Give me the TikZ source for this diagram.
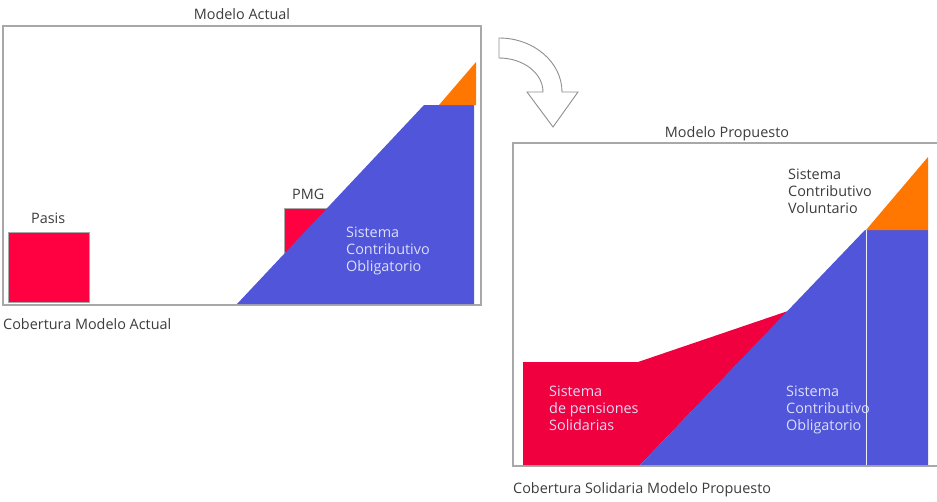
\documentclass[tikz,border=0pt]{standalone}
\usepackage{fontspec}
\setmainfont{Open Sans}
\definecolor{blueC}{RGB}{80,85,217}
\definecolor{redL}{RGB}{255,0,64}
\definecolor{redR}{RGB}{240,0,62}
\definecolor{orangeC}{RGB}{255,119,0}
\definecolor{frameC}{RGB}{168,168,168}
\definecolor{txtC}{RGB}{60,60,60}
\definecolor{ltxt}{RGB}{220,222,248}
\tikzset{
  lbl/.style={inner sep=0pt, anchor=base west, font=\fontsize{14.4}{17}\selectfont, text=txtC},
  wlbl/.style={lbl, text=ltxt},
  ttl/.style={inner sep=0pt, anchor=base, font=\fontsize{14.4}{17}\selectfont, text=txtC},
  frame/.style={draw=frameC, line width=1.5pt},
}
\begin{document}
\begin{tikzpicture}[x=1pt,y=-1pt]
\useasboundingbox (0,0) rectangle (937,501);
% ---------- Left panel ----------
\draw[frame] (3,26) rectangle (481,305);
\node[ttl] (tA) at (242,19.5) {Modelo Actual};
\fill[redL, draw=frameC, line width=1pt] (8,232) rectangle (89,302);
\node[lbl] (pasis) at (31,223) {Pasis};
\fill[redL, draw=frameC, line width=1pt] (284,208) rectangle (340,252);
\node[lbl] (pmg) at (292,199) {PMG};
\fill[blueC] (237,304) -- (424,105) -- (474,105) -- (474,304) -- cycle;
\fill[orangeC] (439,105) -- (476,62) -- (476,105) -- cycle;
\node[wlbl] (l1) at (346,237) {Sistema};
\node[wlbl] (l2) at (346,254) {Contributivo};
\node[wlbl] (l3) at (346,271) {Obligatorio};
\node[lbl] (capA) at (3,329) {Cobertura Modelo Actual};
% ---------- Arrow ----------
\draw[draw=frameC!85!black, line width=0.9pt, fill=white]
  (499,38) .. controls (533.8,38) and (562,62.2) .. (562,92)
  -- (578,92) -- (553,127) -- (527,92) -- (543,92)
  .. controls (543,73.2) and (523.3,58) .. (499,58) -- cycle;
% ---------- Right panel ----------
\draw[frame] (513,143) rectangle (937.5,466);
\node[ttl] (tP) at (727,137) {Modelo Propuesto};
\fill[redR] (523,465) -- (523,362) -- (638,362) -- (788,311) -- (640,465) -- cycle;
\fill[blueC] (640,465) -- (865,230) -- (928,230) -- (928,465) -- cycle;
\fill[orangeC] (866,230) -- (928,157) -- (928,230) -- cycle;
\draw[white!90!blueC, line width=1pt] (866,230) -- (866,465);
\node[lbl] (v1) at (788,179) {Sistema};
\node[lbl] (v2) at (788,196.5) {Contributivo};
\node[lbl] (v3) at (788,213.5) {Voluntario};
\node[wlbl] (s1) at (549,396) {Sistema};
\node[wlbl] (s2) at (549,413) {de pensiones};
\node[wlbl] (s3) at (549,430) {Solidarias};
\node[wlbl] (o1) at (786,396) {Sistema};
\node[wlbl] (o2) at (786,413) {Contributivo};
\node[wlbl] (o3) at (786,430) {Obligatorio};
\node[lbl] (capP) at (513,493) {Cobertura Solidaria Modelo Propuesto};
\end{tikzpicture}
\end{document}
